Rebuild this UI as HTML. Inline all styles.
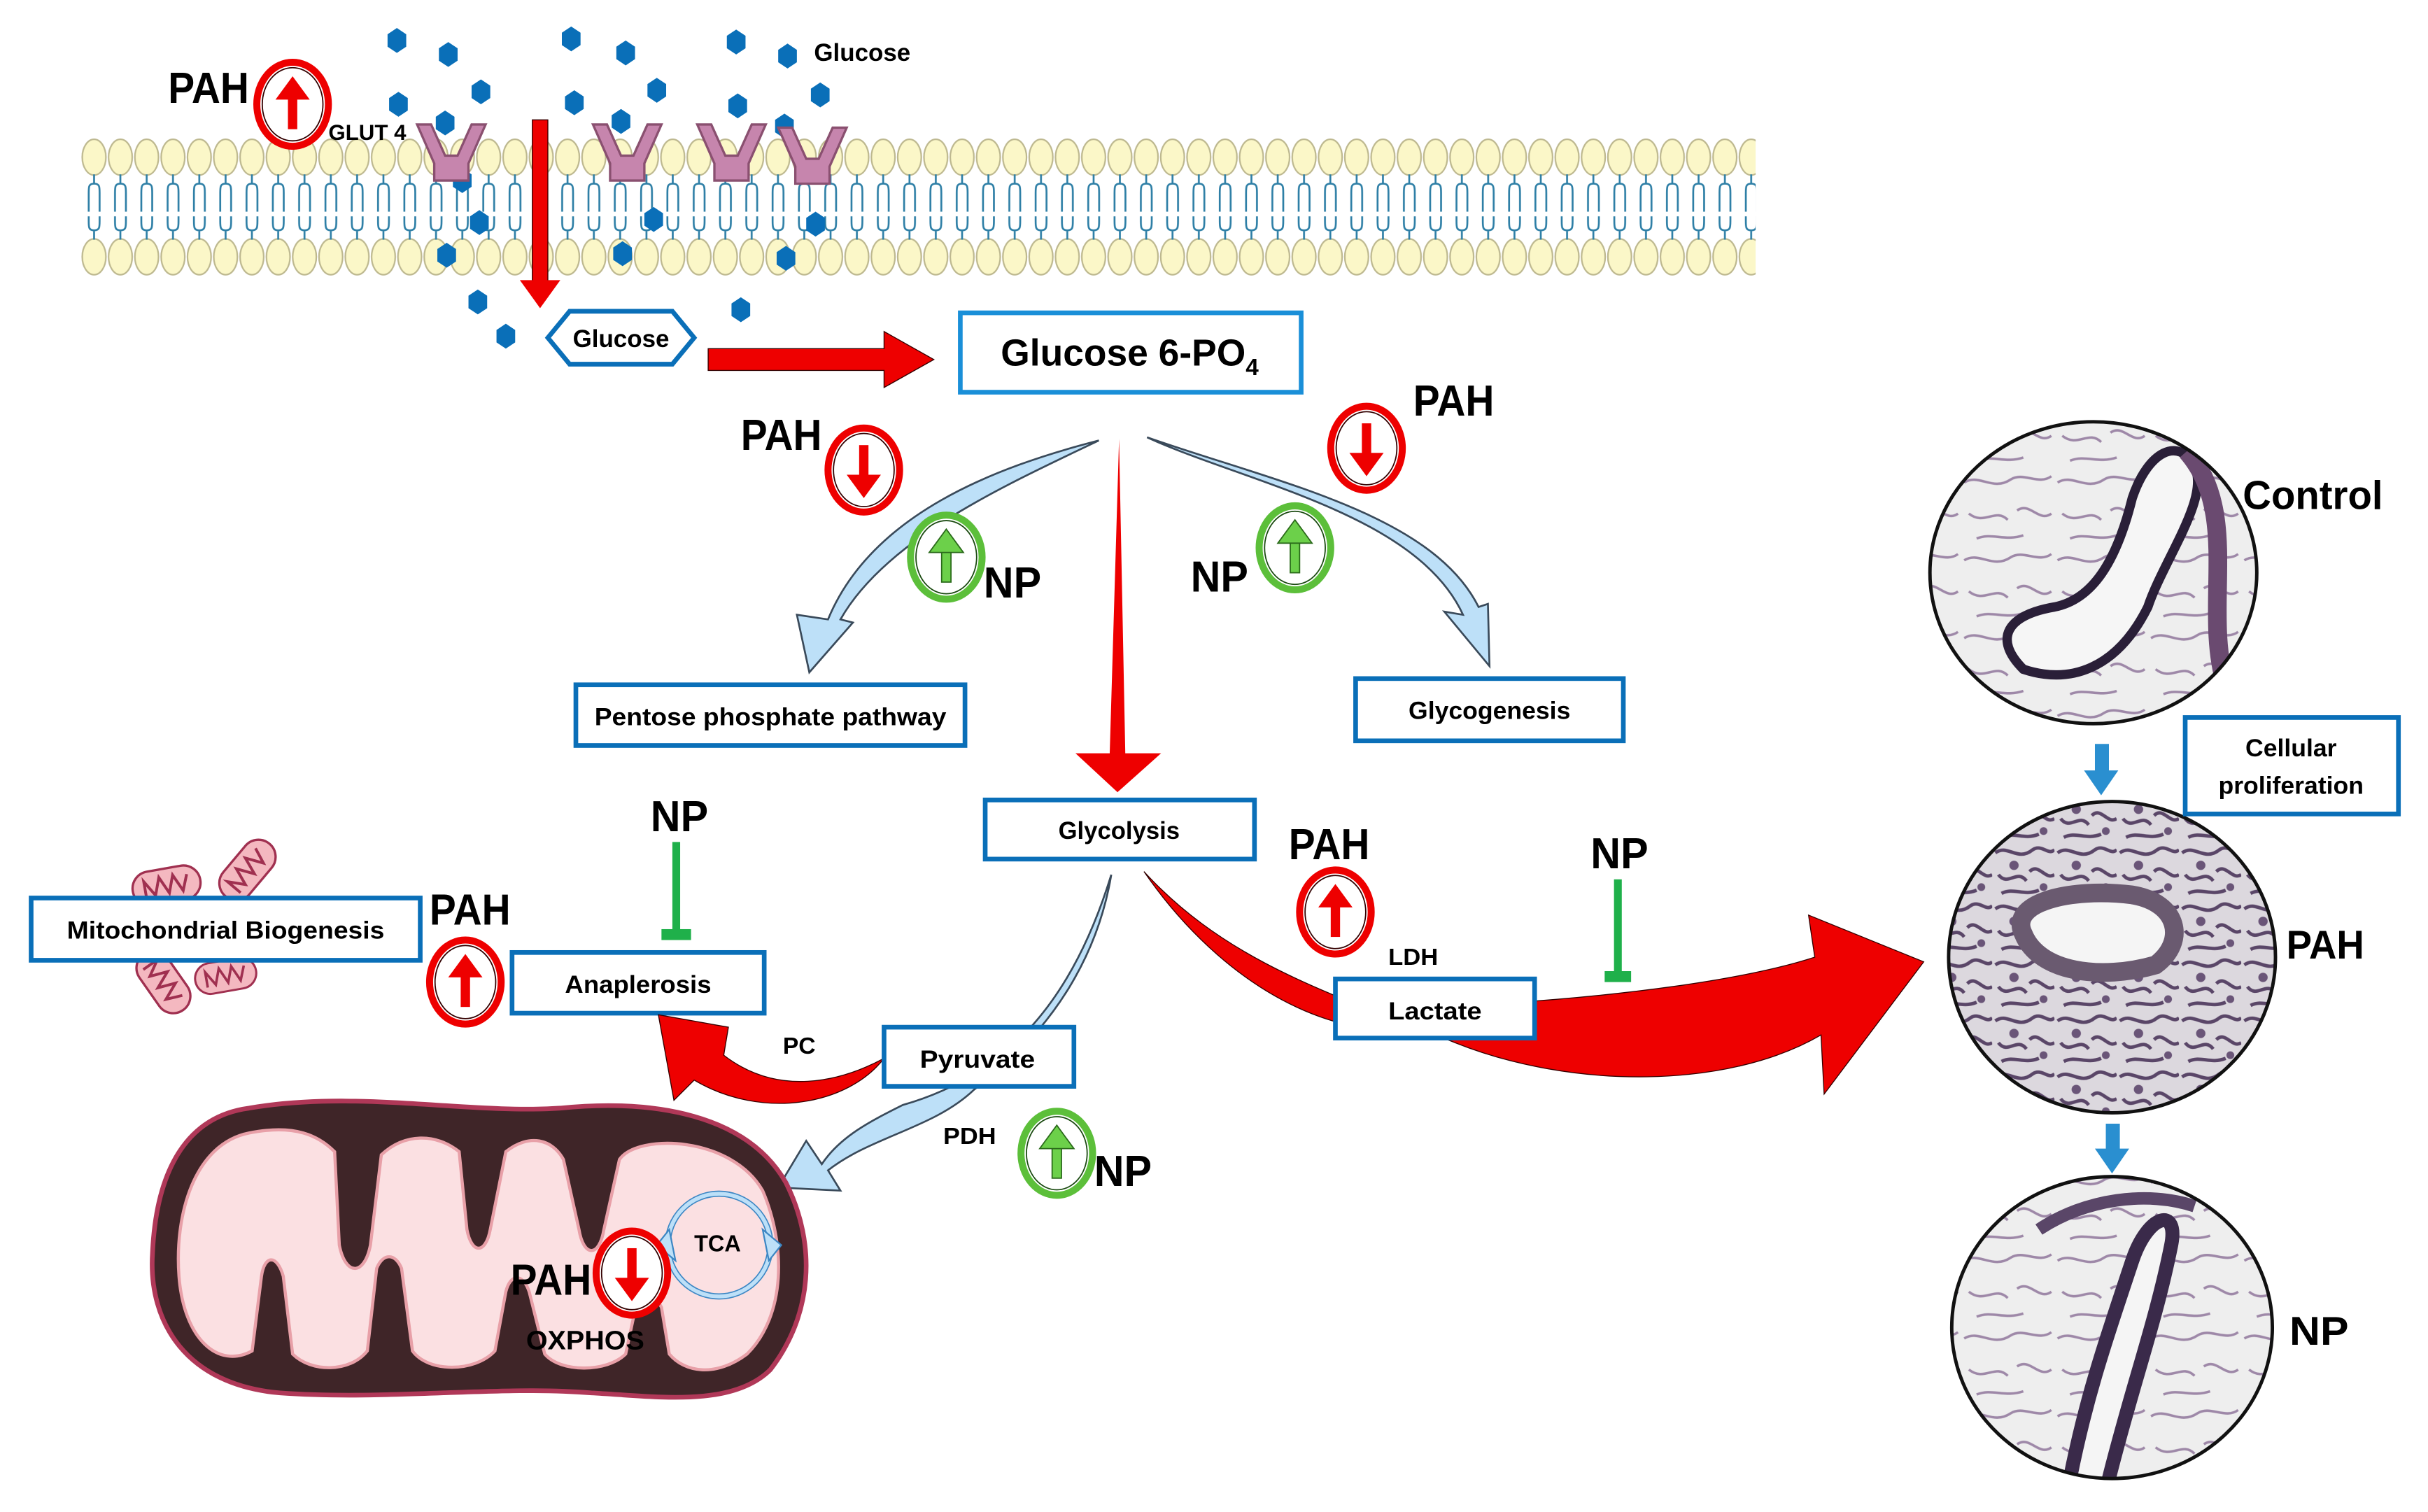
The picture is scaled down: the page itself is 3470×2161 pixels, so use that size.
<!DOCTYPE html>
<html><head><meta charset="utf-8"><style>
html,body{margin:0;padding:0;background:#fff;}
svg{display:block;}
text{font-family:"Liberation Sans Narrow","Liberation Sans",sans-serif;font-weight:bold;fill:#000;}
</style></head><body>
<svg width="3470" height="2161" viewBox="0 0 1560 971.5" xmlns="http://www.w3.org/2000/svg">
<defs>
  <pattern id="heads" x="52" y="0" width="16.9" height="300" patternUnits="userSpaceOnUse">
    <ellipse cx="8.45" cy="101" rx="7.6" ry="11.5" fill="#fbf7c8" stroke="#bdb88f" stroke-width="1"/>
    <ellipse cx="8.45" cy="165" rx="7.6" ry="11.5" fill="#fbf7c8" stroke="#bdb88f" stroke-width="1"/>
    <path d="M8.45 112 V118 M8.45 118 C5 118 5 120 5 124 V136 M8.45 118 C12 118 12 120 12 124 V136" stroke="#2e7fa6" stroke-width="1.2" fill="none"/>
    <path d="M8.45 154 V148 M8.45 148 C5 148 5 146 5 142 V139 M8.45 148 C12 148 12 146 12 142 V139" stroke="#2e7fa6" stroke-width="1.2" fill="none"/>
  </pattern>
  <pattern id="tex1" x="0" y="0" width="60" height="50" patternUnits="userSpaceOnUse">
    <path d="M2,10 C12,4 20,16 32,8 C40,3 50,12 58,6 M5,30 C15,38 22,26 30,34 M36,28 C44,22 50,36 58,30 M10,46 C20,42 28,48 40,44" fill="none" stroke="#8a6f96" stroke-width="1.6"/>
  </pattern>
  <pattern id="tex2" x="0" y="0" width="40" height="36" patternUnits="userSpaceOnUse">
    <rect width="40" height="36" fill="#dcd8de"/>
    <path d="M2,8 C10,2 16,14 26,6 C32,2 36,10 40,6 M4,22 C10,30 16,18 22,26 M24,20 C30,14 34,26 40,22 M6,34 C14,30 20,36 30,32" fill="none" stroke="#5a4668" stroke-width="2.2"/>
    <circle cx="14" cy="16" r="3" fill="#6a5578"/><circle cx="33" cy="30" r="2.5" fill="#6a5578"/>
  </pattern>
  <clipPath id="c1"><ellipse cx="1345" cy="368" rx="105" ry="97"/></clipPath>
  <clipPath id="c2"><ellipse cx="1357" cy="615" rx="105" ry="100"/></clipPath>
  <clipPath id="c3"><ellipse cx="1357" cy="853" rx="103" ry="97"/></clipPath>
  <g id="hex"><polygon points="0,-8 6,-4 6,4 0,8 -6,4 -6,-4" fill="#0a6fb8"/></g>
  <g id="rec"><polygon points="-22,0 -13,0 -4,20 4,20 13,0 22,0 11,25 11,36 -11,36 -11,25" fill="#c685ad" stroke="#8a5070" stroke-width="1.5"/></g>
  <g id="redup"><ellipse cx="0" cy="0" rx="23" ry="27" fill="#fff" stroke="#e00" stroke-width="4.5"/><ellipse cx="0" cy="0" rx="19.5" ry="23.5" fill="none" stroke="#300" stroke-width="0.8"/><rect x="-3" y="-8" width="6" height="24" fill="#e00"/><polygon points="-11,-3 0,-18 11,-3" fill="#e00"/></g>
  <g id="reddown"><use href="#redup" transform="rotate(180)"/></g>
  <g id="greenup"><ellipse cx="0" cy="0" rx="23" ry="27" fill="#fff" stroke="#5cbf3a" stroke-width="4.5"/><ellipse cx="0" cy="0" rx="19.5" ry="23.5" fill="none" stroke="#1a4a10" stroke-width="0.8"/><rect x="-3" y="-8" width="6" height="24" fill="#6cd04a" stroke="#2a6a1a" stroke-width="0.8"/><polygon points="-11,-3 0,-18 11,-3" fill="#6cd04a" stroke="#2a6a1a" stroke-width="0.8"/></g>
  <g id="minimito"><rect x="-22" y="-11" width="44" height="22" rx="11" fill="#f4b8c0" stroke="#a03050" stroke-width="1.5"/><path d="M-14,6 L-14,-5 L-8,5 L-4,-6 L1,5 L5,-6 L10,5 L14,-5" fill="none" stroke="#a03050" stroke-width="1.8"/></g>
</defs>

<!-- membrane -->
<rect x="52" y="86" width="1076" height="94" fill="url(#heads)"/>

<g>
<use href="#hex" x="255" y="26"/><use href="#hex" x="288" y="35"/><use href="#hex" x="309" y="59"/><use href="#hex" x="256" y="67"/><use href="#hex" x="286" y="79"/>
<use href="#hex" x="367" y="25"/><use href="#hex" x="402" y="34"/><use href="#hex" x="422" y="58"/><use href="#hex" x="369" y="66"/><use href="#hex" x="399" y="78"/>
<use href="#hex" x="473" y="27"/><use href="#hex" x="506" y="36"/><use href="#hex" x="527" y="61"/><use href="#hex" x="474" y="68"/><use href="#hex" x="504" y="81"/>
<use href="#hex" x="297" y="116"/><use href="#hex" x="308" y="143"/><use href="#hex" x="287" y="164"/><use href="#hex" x="420" y="141"/><use href="#hex" x="400" y="163"/><use href="#hex" x="524" y="144"/><use href="#hex" x="505" y="166"/>
<use href="#hex" x="307" y="194"/><use href="#hex" x="325" y="216"/><use href="#hex" x="476" y="199"/>
</g>
<use href="#rec" x="290" y="80"/><use href="#rec" x="403" y="80"/><use href="#rec" x="470" y="80"/><use href="#rec" x="522" y="82"/>

<text x="108" y="66" font-size="28" textLength="52" lengthAdjust="spacingAndGlyphs">PAH</text>
<use href="#redup" x="188" y="67"/>
<text x="211" y="90" font-size="14" font-weight="normal" textLength="50" lengthAdjust="spacingAndGlyphs">GLUT 4</text>
<text x="523" y="39" font-size="16" textLength="62" lengthAdjust="spacingAndGlyphs">Glucose</text>

<rect x="342" y="77" width="10" height="108" fill="#e00" stroke="#300" stroke-width="0.6"/>
<polygon points="334,180 360,180 347,198" fill="#e00"/>

<polygon points="352,217 366,200 432,200 446,217 432,234 366,234" fill="#fff" stroke="#0a6fb8" stroke-width="3"/>
<text x="399" y="223" font-size="16" text-anchor="middle" textLength="62" lengthAdjust="spacingAndGlyphs">Glucose</text>

<polygon points="455,224 568,224 568,213 600,231 568,249 568,238 455,238" fill="#e00" stroke="#300" stroke-width="0.6"/>

<rect x="617" y="201" width="219" height="51" fill="#fff" stroke="#1a8fd8" stroke-width="3"/>
<text x="643" y="235" font-size="24" font-weight="normal">Glucose 6-PO<tspan font-size="15" dy="6">4</tspan></text>

<path d="M706,283 C640,300 560,330 532,398 L512,395 L520,432 L548,400 L540,398 C570,345 650,310 706,283 Z" fill="#bde0f8" stroke="#3a4a5a" stroke-width="1.2"/>
<path d="M737,281 C800,310 910,330 940,395 L928,393 L957,428 L956,388 L950,390 C920,330 820,310 737,281 Z" fill="#bde0f8" stroke="#3a4a5a" stroke-width="1.2"/>

<polygon points="719,282 723,484 746,484 718,509 691,484 713,484" fill="#e00"/>

<text x="476" y="289" font-size="28" textLength="52" lengthAdjust="spacingAndGlyphs">PAH</text>
<use href="#reddown" x="555" y="302"/>
<use href="#greenup" x="608" y="358"/>
<text x="632" y="384" font-size="28" textLength="37" lengthAdjust="spacingAndGlyphs">NP</text>
<text x="908" y="267" font-size="28" textLength="52" lengthAdjust="spacingAndGlyphs">PAH</text>
<use href="#reddown" x="878" y="288"/>
<use href="#greenup" x="832" y="352"/>
<text x="765" y="380" font-size="28" textLength="37" lengthAdjust="spacingAndGlyphs">NP</text>

<rect x="370" y="440" width="250" height="39" fill="#fff" stroke="#0a6fb8" stroke-width="3"/>
<text x="495" y="466" font-size="16" text-anchor="middle" textLength="226" lengthAdjust="spacingAndGlyphs">Pentose phosphate pathway</text>
<rect x="871" y="436" width="172" height="40" fill="#fff" stroke="#0a6fb8" stroke-width="3"/>
<text x="957" y="462" font-size="16" text-anchor="middle" textLength="104" lengthAdjust="spacingAndGlyphs">Glycogenesis</text>
<rect x="633" y="514" width="173" height="38" fill="#fff" stroke="#0a6fb8" stroke-width="3"/>
<text x="719" y="539" font-size="16" text-anchor="middle" textLength="78" lengthAdjust="spacingAndGlyphs">Glycolysis</text>

<path d="M735,560 C790,640 880,690 960,645 C1040,640 1120,630 1166,615 L1162,588 L1236,618 L1172,703 L1170,665 C1110,700 1010,700 935,670 C860,640 790,620 735,560 Z" fill="#e00" stroke="#300" stroke-width="0.6"/>

<text x="828" y="552" font-size="28" textLength="52" lengthAdjust="spacingAndGlyphs">PAH</text>
<use href="#redup" x="858" y="586"/>
<text x="892" y="620" font-size="15" textLength="32" lengthAdjust="spacingAndGlyphs">LDH</text>
<rect x="858" y="629" width="128" height="38" fill="#fff" stroke="#0a6fb8" stroke-width="3"/>
<text x="922" y="655" font-size="16" text-anchor="middle" textLength="60" lengthAdjust="spacingAndGlyphs">Lactate</text>
<text x="1022" y="558" font-size="28" textLength="37" lengthAdjust="spacingAndGlyphs">NP</text>
<rect x="1037" y="565" width="5" height="60" fill="#1fb04a"/><rect x="1031" y="624" width="17" height="7" fill="#1fb04a"/>

<path d="M714,562 C690,640 650,690 580,710 C560,720 540,730 528,748 L518,733 L500,763 L540,765 L532,752 C560,730 600,725 626,700 C680,660 706,610 714,562 Z" fill="#bde0f8" stroke="#3a4a5a" stroke-width="1.2"/>

<text x="418" y="534" font-size="28" textLength="37" lengthAdjust="spacingAndGlyphs">NP</text>
<rect x="432" y="541" width="5" height="57" fill="#1fb04a"/><rect x="425" y="597" width="19" height="7" fill="#1fb04a"/>

<use href="#minimito" transform="translate(107 569) rotate(-10)"/>
<use href="#minimito" transform="translate(159 559) rotate(-50)"/>
<use href="#minimito" transform="translate(105 631) rotate(55)"/>
<use href="#minimito" transform="translate(145 627) rotate(-10) scale(0.9)"/>
<rect x="20" y="577" width="250" height="40" fill="#fff" stroke="#0a6fb8" stroke-width="3"/>
<text x="145" y="603" font-size="16" text-anchor="middle" textLength="204" lengthAdjust="spacingAndGlyphs">Mitochondrial Biogenesis</text>
<text x="276" y="594" font-size="28" textLength="52" lengthAdjust="spacingAndGlyphs">PAH</text>
<use href="#redup" x="299" y="631"/>
<rect x="329" y="612" width="162" height="39" fill="#fff" stroke="#0a6fb8" stroke-width="3"/>
<text x="410" y="638" font-size="16" text-anchor="middle" textLength="94" lengthAdjust="spacingAndGlyphs">Anaplerosis</text>

<path d="M568,680 C540,695 500,705 465,678 L468,660 L423,652 L433,707 L446,694 C490,720 545,710 568,680 Z" fill="#e00" stroke="#300" stroke-width="0.6"/>
<text x="503" y="677" font-size="15" textLength="21" lengthAdjust="spacingAndGlyphs">PC</text>
<rect x="568" y="660" width="122" height="38" fill="#fff" stroke="#0a6fb8" stroke-width="3"/>
<text x="628" y="686" font-size="16" text-anchor="middle" textLength="74" lengthAdjust="spacingAndGlyphs">Pyruvate</text>
<text x="606" y="735" font-size="15" textLength="34" lengthAdjust="spacingAndGlyphs">PDH</text>
<use href="#greenup" x="679" y="741"/>
<text x="703" y="762" font-size="28" textLength="37" lengthAdjust="spacingAndGlyphs">NP</text>

<!-- big mitochondrion -->
<path d="M160,712 C230,700 300,716 360,712 C420,706 480,716 505,760 C525,800 522,845 495,880 C470,905 420,897 380,895 C320,890 250,900 180,895 C120,890 95,850 98,805 C100,760 115,718 160,712 Z" fill="#3f2528" stroke="#b03858" stroke-width="3"/>
<path d="M160,728 C190,722 205,730 215,740 L218,800 C222,820 234,820 238,800 L245,742 C260,728 280,728 295,740 L300,790 C303,806 312,806 315,790 L325,740 C340,728 355,732 362,745 L372,790 C375,808 385,808 388,790 L398,745 C410,728 470,730 490,765 C505,800 505,845 480,870 C460,885 440,882 430,870 L425,840 C420,830 410,830 408,842 L402,870 C390,882 360,882 350,870 L340,830 C336,818 328,818 325,830 L318,868 C305,882 275,882 265,868 L258,815 C254,805 246,805 242,815 L236,868 C225,882 200,882 188,870 L182,820 C178,806 170,806 168,820 L162,868 C140,880 118,860 115,820 C112,780 125,735 160,728 Z" fill="#fbe0e2" stroke="#e8a0a8" stroke-width="2"/>
<circle cx="462" cy="800" r="33" fill="none" stroke="#3d87c4" stroke-width="4"/>
<circle cx="462" cy="800" r="33" fill="none" stroke="#bde0f8" stroke-width="2.5"/>
<polygon points="490,790 502,800 494,810" fill="#bde0f8" stroke="#3d87c4" stroke-width="1"/>
<polygon points="434,810 422,800 430,790" fill="#bde0f8" stroke="#3d87c4" stroke-width="1"/>
<text x="446" y="804" font-size="15" textLength="30" lengthAdjust="spacingAndGlyphs">TCA</text>
<text x="328" y="832" font-size="28" textLength="52" lengthAdjust="spacingAndGlyphs">PAH</text>
<use href="#reddown" x="406" y="818"/>
<text x="338" y="867" font-size="17" textLength="76" lengthAdjust="spacingAndGlyphs">OXPHOS</text>

<!-- histology circles -->
<ellipse cx="1345" cy="368" rx="105" ry="97" fill="#eeeeee"/>
<ellipse cx="1357" cy="615" rx="105" ry="100" fill="#eeeeee"/>
<ellipse cx="1357" cy="853" rx="103" ry="97" fill="#eeeeee"/>
<g clip-path="url(#c1)"><rect x="1230" y="260" width="230" height="220" fill="url(#tex1)" opacity="0.8"/>
<path d="M1300,430 C1280,410 1290,395 1320,390 C1345,385 1360,360 1370,320 C1380,290 1400,280 1410,300 C1420,320 1390,360 1380,390 C1360,430 1330,440 1300,430 Z" fill="#f6f6f6" stroke="#2a1f38" stroke-width="6"/>
<path d="M1405,290 C1440,330 1415,390 1430,440" fill="none" stroke="#6a4a70" stroke-width="12"/></g>
<g clip-path="url(#c2)"><rect x="1240" y="505" width="240" height="220" fill="url(#tex2)"/>
<path d="M1300,600 C1290,580 1330,570 1370,575 C1400,580 1405,605 1385,620 C1350,630 1310,625 1300,600 Z" stroke-width="12" stroke="#6a5a70" fill="#f5f5f5"/></g>
<g clip-path="url(#c3)"><rect x="1240" y="750" width="240" height="210" fill="url(#tex1)" opacity="0.8"/>
<path d="M1330,950 C1340,900 1350,870 1370,810 C1380,780 1400,775 1395,800 C1385,850 1370,890 1355,950" stroke-width="9" stroke="#3a2a4a" fill="#f5f5f5"/>
<path d="M1310,790 C1340,770 1380,765 1410,775" fill="none" stroke="#5a4668" stroke-width="8"/></g>
<g fill="none" stroke="#111" stroke-width="2.2">
<ellipse cx="1345" cy="368" rx="105" ry="97"/>
<ellipse cx="1357" cy="615" rx="105" ry="100"/>
<ellipse cx="1357" cy="853" rx="103" ry="97"/>
</g>
<text x="1441" y="327" font-size="26" style="font-family:'Liberation Sans',sans-serif" textLength="90" lengthAdjust="spacingAndGlyphs">Control</text>
<text x="1469" y="616" font-size="26" style="font-family:'Liberation Sans',sans-serif" textLength="50" lengthAdjust="spacingAndGlyphs">PAH</text>
<text x="1471" y="864" font-size="26" style="font-family:'Liberation Sans',sans-serif" textLength="38" lengthAdjust="spacingAndGlyphs">NP</text>
<rect x="1404" y="461" width="137" height="62" fill="#fff" stroke="#0a6fb8" stroke-width="3"/>
<text x="1472" y="486" font-size="16" text-anchor="middle" style="font-family:'Liberation Sans',sans-serif">Cellular</text>
<text x="1472" y="510" font-size="16" text-anchor="middle" style="font-family:'Liberation Sans',sans-serif">proliferation</text>
<polygon points="1346,478 1355,478 1355,495 1361,495 1350,511 1339,495 1346,495" fill="#2a8fd0"/>
<polygon points="1353,722 1362,722 1362,738 1368,738 1357,754 1346,738 1353,738" fill="#2a8fd0"/>
</svg>
</body></html>
